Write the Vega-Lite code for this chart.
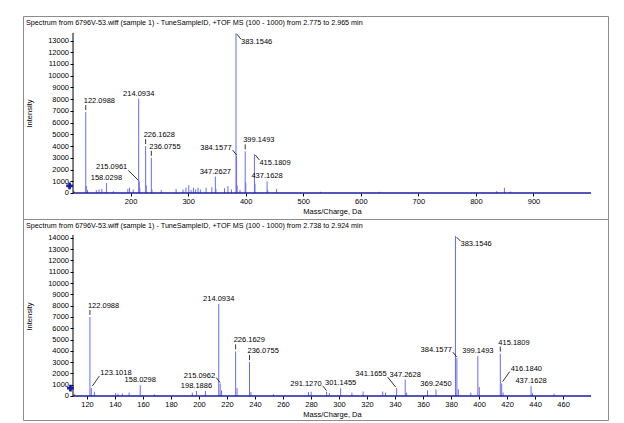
{
  "$schema": "https://vega.github.io/schema/vega-lite/v6.json",
  "background": "white",
  "padding": {"left": 22, "top": 15, "right": 17, "bottom": 4},
  "spacing": 0,
  "bounds": "flush",
  "config": {
    "view": {"stroke": "#8c8c8c", "strokeWidth": 1},
    "axis": {"domain": false, "grid": false, "labelFont": "Liberation Sans", "labelFontSize": 7.5, "labelColor": "#000", "tickColor": "#000", "tickSize": 3, "labelPadding": 1.5, "titleFont": "Liberation Sans", "titleFontSize": 7.5, "titleFontWeight": "normal", "titleColor": "#000", "labelOverlap": false, "labelFlush": false, "tickCount": 50, "minExtent": 0},
    "text": {"font": "Liberation Sans", "fontSize": 7.5, "color": "#000"}
  },
  "datasets": {
    "top": [
      {"mz": 101.5, "I": 200},
      {"mz": 122.0988, "I": 6900, "label": "122.0988"},
      {"mz": 123.1, "I": 600},
      {"mz": 125.3, "I": 250},
      {"mz": 140.5, "I": 250},
      {"mz": 145.2, "I": 300},
      {"mz": 150.1, "I": 350},
      {"mz": 158.0298, "I": 850, "label": "158.0298"},
      {"mz": 170.2, "I": 150},
      {"mz": 195.3, "I": 350},
      {"mz": 198.2, "I": 450},
      {"mz": 204.6, "I": 300},
      {"mz": 214.0934, "I": 8050, "label": "214.0934"},
      {"mz": 215.0961, "I": 1000, "label": "215.0961"},
      {"mz": 216.1, "I": 450},
      {"mz": 226.1628, "I": 4000, "label": "226.1628"},
      {"mz": 227.2, "I": 650},
      {"mz": 236.0755, "I": 3000, "label": "236.0755"},
      {"mz": 237.1, "I": 300},
      {"mz": 253.2, "I": 250},
      {"mz": 279.1, "I": 350},
      {"mz": 291.1, "I": 300},
      {"mz": 296.2, "I": 450},
      {"mz": 301.1, "I": 650},
      {"mz": 305.2, "I": 250},
      {"mz": 309.2, "I": 450},
      {"mz": 313.1, "I": 300},
      {"mz": 317.2, "I": 450},
      {"mz": 321.2, "I": 300},
      {"mz": 331.2, "I": 450},
      {"mz": 341.2, "I": 500},
      {"mz": 347.2627, "I": 1400, "label": "347.2627"},
      {"mz": 348.3, "I": 350},
      {"mz": 363.2, "I": 400},
      {"mz": 369.2, "I": 600},
      {"mz": 375.2, "I": 300},
      {"mz": 383.1546, "I": 13620, "label": "383.1546"},
      {"mz": 384.1577, "I": 3150, "label": "384.1577"},
      {"mz": 385.2, "I": 650},
      {"mz": 390.1, "I": 250},
      {"mz": 399.1493, "I": 3550, "label": "399.1493"},
      {"mz": 400.15, "I": 900},
      {"mz": 415.1809, "I": 3320, "label": "415.1809"},
      {"mz": 416.18, "I": 800},
      {"mz": 437.1628, "I": 1000, "label": "437.1628"},
      {"mz": 438.2, "I": 250},
      {"mz": 453.6, "I": 350},
      {"mz": 530, "I": 100},
      {"mz": 632, "I": 100},
      {"mz": 836, "I": 150},
      {"mz": 849.5, "I": 450},
      {"mz": 860, "I": 120}
    ],
    "bottom": [
      {"mz": 111.2, "I": 200},
      {"mz": 122.0988, "I": 7000, "label": "122.0988"},
      {"mz": 123.1018, "I": 700, "label": "123.1018"},
      {"mz": 125.3, "I": 380},
      {"mz": 140.5, "I": 250},
      {"mz": 142.1, "I": 200},
      {"mz": 145.2, "I": 220},
      {"mz": 150.1, "I": 300},
      {"mz": 158.0298, "I": 950, "label": "158.0298"},
      {"mz": 168.1, "I": 150},
      {"mz": 195.2, "I": 300},
      {"mz": 198.1886, "I": 450, "label": "198.1886"},
      {"mz": 204.6, "I": 450},
      {"mz": 214.0934, "I": 8150, "label": "214.0934"},
      {"mz": 215.0962, "I": 1100, "label": "215.0962"},
      {"mz": 216.1, "I": 500},
      {"mz": 226.1629, "I": 3950, "label": "226.1629"},
      {"mz": 227.2, "I": 700},
      {"mz": 236.0755, "I": 3000, "label": "236.0755"},
      {"mz": 237.1, "I": 350},
      {"mz": 253.2, "I": 150},
      {"mz": 278.2, "I": 350},
      {"mz": 280.1, "I": 380},
      {"mz": 291.127, "I": 380, "label": "291.1270"},
      {"mz": 293.1, "I": 250},
      {"mz": 301.1455, "I": 680, "label": "301.1455"},
      {"mz": 309.2, "I": 300},
      {"mz": 317.2, "I": 400},
      {"mz": 331.2, "I": 400},
      {"mz": 333.2, "I": 300},
      {"mz": 341.1655, "I": 700, "label": "341.1655"},
      {"mz": 347.2628, "I": 1450, "label": "347.2628"},
      {"mz": 348.3, "I": 300},
      {"mz": 363.2, "I": 500},
      {"mz": 369.245, "I": 580, "label": "369.2450"},
      {"mz": 383.1546, "I": 14150, "label": "383.1546"},
      {"mz": 384.1577, "I": 3350, "label": "384.1577"},
      {"mz": 385.2, "I": 600},
      {"mz": 394.1, "I": 300},
      {"mz": 399.1493, "I": 3550, "label": "399.1493"},
      {"mz": 400.15, "I": 800},
      {"mz": 415.1809, "I": 3750, "label": "415.1809"},
      {"mz": 416.184, "I": 1100, "label": "416.1840"},
      {"mz": 417.2, "I": 300},
      {"mz": 437.1628, "I": 870, "label": "437.1628"},
      {"mz": 438.2, "I": 250},
      {"mz": 453.6, "I": 200}
    ]
  },
  "vconcat": [
    {
      "width": 585,
      "height": 203,
      "title": {"text": "Spectrum from 6796V-53.wiff (sample 1) - TuneSampleID, +TOF MS (100 - 1000) from 2.775 to 2.965 min", "anchor": "start", "frame": "group", "offset": -10, "dx": 3, "font": "Liberation Sans", "fontSize": 7.2, "fontWeight": "normal", "color": "#000"},
      "data": {"name": "top"},
      "layer": [
        {
          "mark": {"type": "rule", "color": "#6a6af8", "strokeWidth": 1},
          "encoding": {
            "x": {"field": "mz", "type": "quantitative", "scale": {"domain": [13.1, 1029.5], "nice": false, "zero": false}, "axis": {"values": [200, 300, 400, 500, 600, 700, 800, 900], "tickCount": 50, "format": "d", "labelOverlap": false, "offset": -26, "maxExtent": 20, "title": "Mass/Charge, Da", "titleX": 309, "titleY": 18, "titleBaseline": "middle", "titleAlign": "center"}},
            "y": {"field": "I", "type": "quantitative", "scale": {"domain": [-2217, 15090], "nice": false, "zero": false}, "axis": {"values": [0, 1000, 2000, 3000, 4000, 5000, 6000, 7000, 8000, 9000, 10000, 11000, 12000, 13000], "tickCount": 50, "format": "d", "labelOverlap": false, "offset": -50, "maxExtent": 40, "title": "Intensity", "titleX": -44, "titleY": 97, "titleBaseline": "middle", "titleAlign": "center"}},
            "y2": {"datum": 0}
          }
        },
        {
          "data": {"values": [{}]},
          "mark": {"type": "rule", "color": "#1c1c9c", "strokeWidth": 1.6},
          "encoding": {
            "x": {"datum": 100, "scale": {"domain": [13.1, 1029.5], "nice": false, "zero": false}},
            "x2": {"datum": 1000},
            "y": {"datum": 0, "scale": {"domain": [-2217, 15090], "nice": false, "zero": false}}
          }
        },
        {
          "data": {"values": [{}]},
          "mark": {"type": "rule", "color": "#000", "strokeWidth": 1},
          "encoding": {
            "x": {"datum": 100, "scale": {"domain": [13.1, 1029.5], "nice": false, "zero": false}},
            "y": {"datum": 0, "scale": {"domain": [-2217, 15090], "nice": false, "zero": false}},
            "y2": {"datum": 13650}
          }
        },
        {
          "data": {"values": [{}]},
          "mark": {"type": "point", "shape": "cross", "filled": true, "color": "#1c1c9c", "size": 45, "opacity": 1},
          "encoding": {
            "x": {"datum": 94, "scale": {"domain": [13.1, 1029.5], "nice": false, "zero": false}},
            "y": {"datum": 600, "scale": {"domain": [-2217, 15090], "nice": false, "zero": false}}
          }
        },
        {
          "transform": [{"filter": {"field": "label", "oneOf": ["158.0298", "214.0934", "347.2627", "437.1628"]}}],
          "mark": {"type": "text", "align": "center", "baseline": "alphabetic", "dy": -3},
          "encoding": {"x": {"field": "mz", "type": "quantitative"}, "y": {"field": "I", "type": "quantitative"}, "text": {"field": "label"}}
        },
        {
          "transform": [{"filter": {"field": "label", "oneOf": ["122.0988", "226.1628", "236.0755", "399.1493"]}}],
          "mark": {"type": "text", "align": "left", "baseline": "alphabetic", "dx": -2, "dy": -9},
          "encoding": {"x": {"field": "mz", "type": "quantitative"}, "y": {"field": "I", "type": "quantitative"}, "text": {"field": "label"}}
        },
        {
          "transform": [{"filter": {"field": "label", "oneOf": ["122.0988", "226.1628", "236.0755", "399.1493"]}}],
          "mark": {"type": "rule", "color": "#000", "strokeWidth": 0.8, "yOffset": -2, "y2Offset": -7},
          "encoding": {"x": {"field": "mz", "type": "quantitative"}, "y": {"field": "I", "type": "quantitative"}, "y2": {"field": "I"}}
        },
        {
          "transform": [{"filter": {"field": "label", "oneOf": ["384.1577"]}}],
          "mark": {"type": "text", "align": "right", "baseline": "alphabetic", "dx": -5, "dy": -6},
          "encoding": {"x": {"field": "mz", "type": "quantitative"}, "y": {"field": "I", "type": "quantitative"}, "text": {"field": "label"}}
        },
        {
          "transform": [{"filter": {"field": "label", "oneOf": ["384.1577"]}}],
          "mark": {"type": "rule", "color": "#000", "strokeWidth": 0.8, "xOffset": 0, "yOffset": -1, "x2Offset": -4, "y2Offset": -6},
          "encoding": {"x": {"field": "mz", "type": "quantitative"}, "y": {"field": "I", "type": "quantitative"}, "x2": {"field": "mz"}, "y2": {"field": "I"}}
        },
        {
          "transform": [{"filter": {"field": "label", "oneOf": ["383.1546", "415.1809"]}}],
          "mark": {"type": "text", "align": "left", "baseline": "middle", "dx": 5, "dy": 9},
          "encoding": {"x": {"field": "mz", "type": "quantitative"}, "y": {"field": "I", "type": "quantitative"}, "text": {"field": "label"}}
        },
        {
          "transform": [{"filter": {"field": "label", "oneOf": ["383.1546", "415.1809"]}}],
          "mark": {"type": "rule", "color": "#000", "strokeWidth": 0.8, "xOffset": 1, "yOffset": 1, "x2Offset": 5, "y2Offset": 6},
          "encoding": {"x": {"field": "mz", "type": "quantitative"}, "y": {"field": "I", "type": "quantitative"}, "x2": {"field": "mz"}, "y2": {"field": "I"}}
        },
        {
          "transform": [{"filter": {"field": "label", "oneOf": ["215.0961"]}}],
          "mark": {"type": "text", "align": "right", "baseline": "alphabetic", "dx": -12, "dy": -12},
          "encoding": {"x": {"field": "mz", "type": "quantitative"}, "y": {"field": "I", "type": "quantitative"}, "text": {"field": "label"}}
        },
        {
          "transform": [{"filter": {"field": "label", "oneOf": ["215.0961"]}}],
          "mark": {"type": "rule", "color": "#000", "strokeWidth": 0.8, "xOffset": -1, "yOffset": -1, "x2Offset": -11, "y2Offset": -11},
          "encoding": {"x": {"field": "mz", "type": "quantitative"}, "y": {"field": "I", "type": "quantitative"}, "x2": {"field": "mz"}, "y2": {"field": "I"}}
        }
      ]
    },
    {
      "width": 585,
      "height": 201,
      "title": {"text": "Spectrum from 6796V-53.wiff (sample 1) - TuneSampleID, +TOF MS (100 - 1000) from 2.738 to 2.924 min", "anchor": "start", "frame": "group", "offset": -10, "dx": 3, "font": "Liberation Sans", "fontSize": 7.2, "fontWeight": "normal", "color": "#000"},
      "data": {"name": "bottom"},
      "layer": [
        {
          "mark": {"type": "rule", "color": "#6a6af8", "strokeWidth": 1},
          "encoding": {
            "x": {"field": "mz", "type": "quantitative", "scale": {"domain": [74.3, 492.1], "nice": false, "zero": false}, "axis": {"values": [120, 140, 160, 180, 200, 220, 240, 260, 280, 300, 320, 340, 360, 380, 400, 420, 440, 460], "tickCount": 50, "format": "d", "labelOverlap": false, "offset": -24, "maxExtent": 20, "title": "Mass/Charge, Da", "titleX": 309, "titleY": 18, "titleBaseline": "middle", "titleAlign": "center"}},
            "y": {"field": "I", "type": "quantitative", "scale": {"domain": [-2124, 15664], "nice": false, "zero": false}, "axis": {"values": [0, 1000, 2000, 3000, 4000, 5000, 6000, 7000, 8000, 9000, 10000, 11000, 12000, 13000, 14000], "tickCount": 50, "format": "d", "labelOverlap": false, "offset": -50, "maxExtent": 40, "title": "Intensity", "titleX": -44, "titleY": 97, "titleBaseline": "middle", "titleAlign": "center"}},
            "y2": {"datum": 0}
          }
        },
        {
          "data": {"values": [{}]},
          "mark": {"type": "rule", "color": "#1c1c9c", "strokeWidth": 1.6},
          "encoding": {
            "x": {"datum": 110, "scale": {"domain": [74.3, 492.1], "nice": false, "zero": false}},
            "x2": {"datum": 480},
            "y": {"datum": 0, "scale": {"domain": [-2124, 15664], "nice": false, "zero": false}}
          }
        },
        {
          "data": {"values": [{}]},
          "mark": {"type": "rule", "color": "#000", "strokeWidth": 1},
          "encoding": {
            "x": {"datum": 110, "scale": {"domain": [74.3, 492.1], "nice": false, "zero": false}},
            "y": {"datum": 0, "scale": {"domain": [-2124, 15664], "nice": false, "zero": false}},
            "y2": {"datum": 14250}
          }
        },
        {
          "data": {"values": [{}]},
          "mark": {"type": "point", "shape": "cross", "filled": true, "color": "#1c1c9c", "size": 45, "opacity": 1},
          "encoding": {
            "x": {"datum": 108.2, "scale": {"domain": [74.3, 492.1], "nice": false, "zero": false}},
            "y": {"datum": 700, "scale": {"domain": [-2124, 15664], "nice": false, "zero": false}}
          }
        },
        {
          "transform": [{"filter": {"field": "label", "oneOf": ["158.0298", "198.1886", "214.0934", "301.1455", "347.2628", "369.2450", "399.1493", "437.1628"]}}],
          "mark": {"type": "text", "align": "center", "baseline": "alphabetic", "dy": -3},
          "encoding": {"x": {"field": "mz", "type": "quantitative"}, "y": {"field": "I", "type": "quantitative"}, "text": {"field": "label"}}
        },
        {
          "transform": [{"filter": {"field": "label", "oneOf": ["122.0988", "226.1629", "236.0755", "415.1809"]}}],
          "mark": {"type": "text", "align": "left", "baseline": "alphabetic", "dx": -2, "dy": -9},
          "encoding": {"x": {"field": "mz", "type": "quantitative"}, "y": {"field": "I", "type": "quantitative"}, "text": {"field": "label"}}
        },
        {
          "transform": [{"filter": {"field": "label", "oneOf": ["122.0988", "226.1629", "236.0755", "415.1809"]}}],
          "mark": {"type": "rule", "color": "#000", "strokeWidth": 0.8, "yOffset": -2, "y2Offset": -7},
          "encoding": {"x": {"field": "mz", "type": "quantitative"}, "y": {"field": "I", "type": "quantitative"}, "y2": {"field": "I"}}
        },
        {
          "transform": [{"filter": {"field": "label", "oneOf": ["384.1577", "291.1270", "215.0962"]}}],
          "mark": {"type": "text", "align": "right", "baseline": "alphabetic", "dx": -5, "dy": -6},
          "encoding": {"x": {"field": "mz", "type": "quantitative"}, "y": {"field": "I", "type": "quantitative"}, "text": {"field": "label"}}
        },
        {
          "transform": [{"filter": {"field": "label", "oneOf": ["384.1577", "291.1270", "215.0962"]}}],
          "mark": {"type": "rule", "color": "#000", "strokeWidth": 0.8, "xOffset": 0, "yOffset": -1, "x2Offset": -4, "y2Offset": -6},
          "encoding": {"x": {"field": "mz", "type": "quantitative"}, "y": {"field": "I", "type": "quantitative"}, "x2": {"field": "mz"}, "y2": {"field": "I"}}
        },
        {
          "transform": [{"filter": {"field": "label", "oneOf": ["383.1546"]}}],
          "mark": {"type": "text", "align": "left", "baseline": "middle", "dx": 5, "dy": 8},
          "encoding": {"x": {"field": "mz", "type": "quantitative"}, "y": {"field": "I", "type": "quantitative"}, "text": {"field": "label"}}
        },
        {
          "transform": [{"filter": {"field": "label", "oneOf": ["383.1546"]}}],
          "mark": {"type": "rule", "color": "#000", "strokeWidth": 0.8, "xOffset": 1, "yOffset": 1, "x2Offset": 5, "y2Offset": 5},
          "encoding": {"x": {"field": "mz", "type": "quantitative"}, "y": {"field": "I", "type": "quantitative"}, "x2": {"field": "mz"}, "y2": {"field": "I"}}
        },
        {
          "transform": [{"filter": {"field": "label", "oneOf": ["341.1655"]}}],
          "mark": {"type": "text", "align": "right", "baseline": "alphabetic", "dx": -10, "dy": -12},
          "encoding": {"x": {"field": "mz", "type": "quantitative"}, "y": {"field": "I", "type": "quantitative"}, "text": {"field": "label"}}
        },
        {
          "transform": [{"filter": {"field": "label", "oneOf": ["341.1655"]}}],
          "mark": {"type": "rule", "color": "#000", "strokeWidth": 0.8, "xOffset": -1, "yOffset": -1, "x2Offset": -9, "y2Offset": -11},
          "encoding": {"x": {"field": "mz", "type": "quantitative"}, "y": {"field": "I", "type": "quantitative"}, "x2": {"field": "mz"}, "y2": {"field": "I"}}
        },
        {
          "transform": [{"filter": {"field": "label", "oneOf": ["123.1018", "416.1840"]}}],
          "mark": {"type": "text", "align": "left", "baseline": "alphabetic", "dx": 9, "dy": -13},
          "encoding": {"x": {"field": "mz", "type": "quantitative"}, "y": {"field": "I", "type": "quantitative"}, "text": {"field": "label"}}
        },
        {
          "transform": [{"filter": {"field": "label", "oneOf": ["123.1018", "416.1840"]}}],
          "mark": {"type": "rule", "color": "#000", "strokeWidth": 0.8, "xOffset": 1, "yOffset": -2, "x2Offset": 8, "y2Offset": -12},
          "encoding": {"x": {"field": "mz", "type": "quantitative"}, "y": {"field": "I", "type": "quantitative"}, "x2": {"field": "mz"}, "y2": {"field": "I"}}
        }
      ]
    }
  ]
}
